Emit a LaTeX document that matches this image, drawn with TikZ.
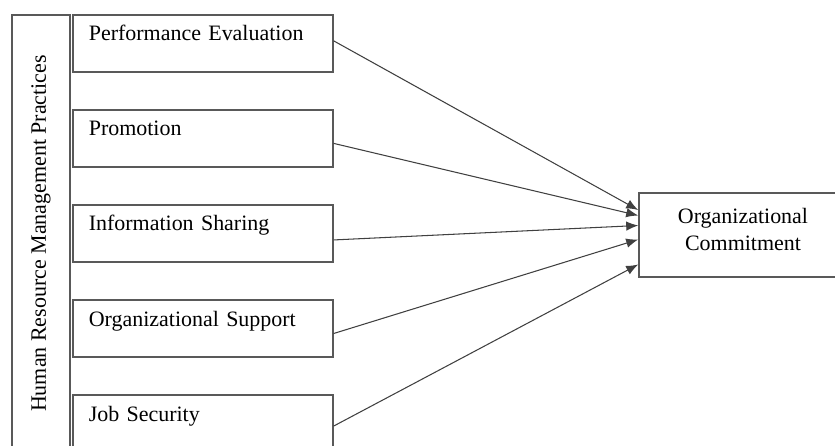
\documentclass[tikz,border=0pt]{standalone}
\usepackage{fontspec}
\setmainfont{Liberation Serif}
\usetikzlibrary{arrows.meta,positioning,calc}

\begin{document}
\begin{tikzpicture}
[node distance=.73cm, font=\fontsize{12.5}{15}\selectfont,
hrbox/.style={shape=rectangle,draw=black!65,line width=.9pt,text width=4.56cm,
inner xsep=.32cm,inner ysep=.12cm,text height=.4cm,text depth=.5cm,align=left},
sidebox/.style={shape=rectangle,draw=black!65,line width=.9pt,minimum width=8.74cm,
minimum height=1.16cm,rotate=90},
outbox/.style={shape=rectangle,draw=black!65,line width=.9pt,minimum width=4.16cm,
minimum height=1.68cm,align=center},
myedge/.style={>={Latex[length=2.4mm,width=1.9mm]}, draw=black!75, line width=.6pt}]
\useasboundingbox (0,0) rectangle (16.7,-8.92);
\clip (0,0) rectangle (16.7,-8.92);
%%%%%%%%%%
%%%%% practices
%% vertices
\node (hrm) [sidebox] at (.82,-4.67) {Human Resource Management Practices};
\node (pe) [hrbox,anchor=north west] at (1.44,-.28) {Performance Evaluation};
\node (pr) [hrbox,below=of pe] {Promotion};
\node (is) [hrbox,below=of pr] {Information Sharing};
\node (os) [hrbox,below=of is] {Organizational Support};
\node (js) [hrbox,below=of os] {Job Security};
%% outcome
\node (oc) [outbox] at (14.86,-4.7) {Organizational\\Commitment\\[-.3cm]};
%% edges
\draw[myedge,->] ([yshift=.05cm]pe.east) -- ([yshift=.5cm]oc.west);
\draw[myedge,->] ([yshift=-.1cm]pr.east) -- ([yshift=.39cm]oc.west);
\draw[myedge,->] ([yshift=-.13cm]is.east) -- ([yshift=.19cm]oc.west);
\draw[myedge,->] ([yshift=-.1cm]os.east) -- ([yshift=-.09cm]oc.west);
\draw[myedge,->] ([yshift=-.05cm]js.east) -- ([yshift=-.59cm]oc.west);
%%
\end{tikzpicture}
\end{document}
